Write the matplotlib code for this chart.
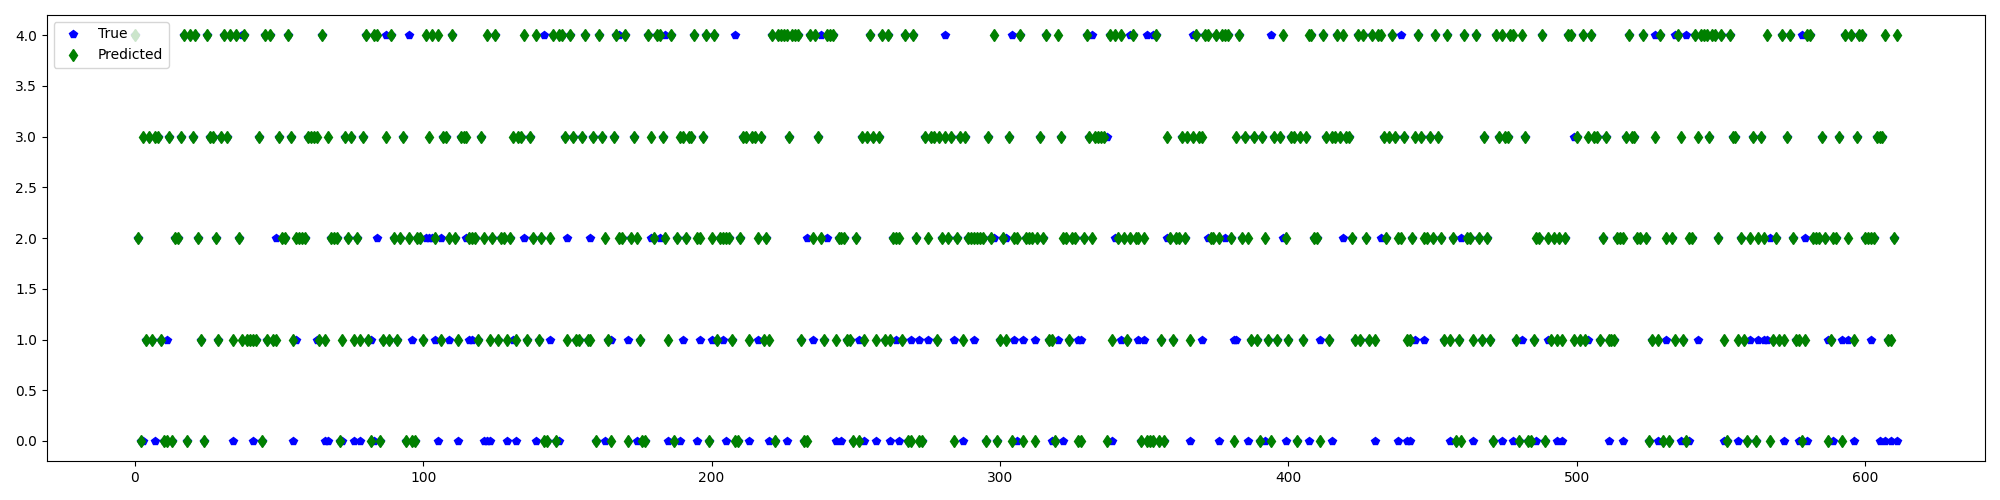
import matplotlib
matplotlib.use("Agg")
import matplotlib.pyplot as plt

# predicted class for every test sample (index 0..611)
y_pred = [
    4, 2, 0, 3, 1, 3, 1, 3, 3, 1, 0, 0, 3, 0, 2, 2, 3, 4, 0, 4,
    3, 4, 2, 1, 0, 4, 3, 3, 2, 1, 3, 4, 3, 4, 1, 4, 2, 1, 4, 1,
    1, 1, 1, 3, 0, 4, 1, 4, 1, 1, 3, 2, 2, 4, 3, 1, 2, 2, 2, 2,
    3, 3, 3, 3, 1, 4, 1, 3, 2, 2, 2, 0, 1, 3, 2, 3, 1, 2, 1, 3,
    4, 1, 0, 4, 4, 0, 1, 3, 1, 4, 2, 1, 2, 3, 0, 2, 0, 0, 2, 2,
    1, 4, 3, 4, 2, 4, 1, 3, 3, 2, 4, 2, 1, 3, 3, 3, 2, 2, 2, 1,
    3, 2, 4, 1, 2, 4, 1, 2, 2, 1, 2, 3, 1, 3, 3, 4, 1, 3, 2, 4,
    1, 2, 0, 0, 2, 4, 0, 4, 4, 3, 1, 4, 3, 1, 1, 3, 4, 1, 1, 3,
    0, 4, 3, 2, 1, 0, 3, 4, 2, 2, 4, 0, 2, 3, 2, 1, 0, 0, 4, 3,
    2, 4, 4, 3, 2, 1, 4, 0, 2, 3, 3, 2, 3, 3, 4, 2, 2, 3, 4, 0,
    2, 4, 1, 2, 2, 2, 2, 1, 0, 0, 2, 3, 3, 1, 3, 3, 2, 3, 1, 2,
    1, 4, 0, 4, 4, 4, 4, 3, 4, 4, 4, 1, 0, 0, 4, 2, 4, 3, 2, 1,
    4, 4, 4, 1, 2, 2, 2, 1, 1, 0, 2, 0, 3, 1, 3, 4, 3, 1, 3, 4,
    1, 4, 1, 2, 2, 2, 1, 4, 0, 0, 4, 2, 0, 0, 3, 2, 3, 3, 1, 3,
    2, 3, 2, 3, 0, 2, 3, 1, 3, 2, 2, 2, 2, 2, 2, 0, 3, 2, 4, 0,
    1, 2, 1, 3, 0, 2, 2, 4, 0, 2, 2, 2, 0, 2, 3, 2, 4, 1, 1, 0,
    4, 3, 2, 2, 1, 2, 2, 0, 0, 2, 4, 3, 2, 3, 3, 3, 3, 0, 4, 1,
    4, 2, 4, 2, 1, 2, 4, 2, 2, 0, 2, 0, 0, 0, 4, 0, 1, 0, 3, 2,
    1, 2, 2, 3, 2, 3, 1, 3, 4, 3, 3, 4, 4, 2, 2, 4, 2, 4, 4, 4,
    2, 0, 3, 4, 2, 3, 2, 1, 3, 1, 0, 3, 2, 1, 0, 3, 1, 3, 4, 2,
    1, 3, 3, 0, 3, 1, 3, 4, 4, 2, 2, 0, 4, 3, 1, 3, 3, 4, 3, 4,
    3, 3, 2, 1, 4, 1, 4, 2, 1, 4, 1, 4, 4, 3, 2, 3, 4, 3, 2, 2,
    3, 1, 1, 2, 3, 4, 3, 2, 2, 3, 2, 4, 3, 2, 1, 4, 1, 2, 0, 1,
    0, 4, 2, 2, 1, 4, 2, 1, 3, 2, 1, 0, 4, 3, 4, 3, 3, 4, 4, 1,
    0, 4, 3, 0, 0, 1, 2, 2, 4, 0, 2, 1, 2, 1, 2, 1, 2, 4, 4, 1,
    3, 1, 4, 1, 3, 4, 3, 3, 1, 2, 3, 1, 1, 1, 2, 2, 2, 3, 4, 3,
    3, 2, 2, 4, 2, 0, 1, 3, 1, 4, 0, 2, 0, 2, 1, 4, 3, 1, 0, 2,
    2, 4, 3, 4, 4, 4, 3, 4, 4, 2, 4, 1, 0, 4, 3, 3, 1, 2, 1, 0,
    2, 3, 0, 2, 3, 2, 4, 0, 1, 2, 1, 4, 1, 3, 4, 2, 1, 1, 0, 1,
    4, 4, 2, 2, 2, 3, 2, 0, 1, 2, 2, 3, 0, 4, 2, 4, 1, 3, 4, 4,
    2, 2, 2, 2, 3, 3, 3, 4, 1, 1, 2, 4,
]

# samples where the true class differs from the prediction (visible blue pentagons):
# (index, true class)
wrong = [
    (3, 0), (7, 0), (11, 1), (34, 0), (37, 4), (41, 0), (49, 2), (55, 0), (56, 1),
    (63, 1), (66, 0), (67, 0), (72, 0), (76, 0), (78, 0), (82, 1), (83, 0), (84, 2),
    (87, 4), (95, 4), (96, 1), (101, 2), (102, 2), (103, 2), (104, 1), (105, 0),
    (106, 2), (109, 1), (112, 0), (115, 2), (116, 1), (117, 1), (121, 0), (122, 0),
    (123, 0), (129, 0), (131, 1), (132, 0), (135, 2), (139, 0), (142, 4), (144, 1),
    (147, 0), (150, 2), (158, 2), (163, 0), (165, 1), (168, 4), (171, 1), (174, 0),
    (179, 2), (182, 2), (184, 4), (185, 0), (189, 0), (190, 1), (195, 0), (196, 1),
    (200, 1), (204, 1), (205, 0), (208, 4), (213, 0), (216, 1), (220, 0), (226, 0),
    (233, 2), (235, 1), (238, 4), (240, 2), (243, 0), (245, 0), (251, 1), (253, 0),
    (257, 0), (262, 0), (264, 1), (265, 0), (269, 1), (272, 1), (275, 1), (281, 4),
    (284, 1), (287, 0), (291, 1), (298, 2), (302, 2), (304, 4), (305, 1), (306, 0),
    (308, 1), (312, 1), (318, 0), (320, 1), (322, 0), (327, 1), (328, 1), (332, 4),
    (337, 3), (339, 0), (340, 2), (342, 1), (345, 4), (348, 1), (350, 1), (351, 4),
    (353, 4), (358, 2), (366, 0), (367, 4), (370, 1), (372, 2), (376, 0), (378, 2),
    (381, 1), (382, 1), (386, 0), (392, 0), (394, 4), (398, 2), (399, 0), (407, 0),
    (411, 1), (415, 0), (419, 2), (430, 0), (432, 2), (438, 0), (439, 4), (441, 0),
    (442, 0), (444, 1), (447, 1), (456, 0), (460, 2), (464, 0), (474, 0), (478, 0),
    (481, 1), (486, 0), (490, 1), (493, 0), (495, 0), (499, 3), (504, 1), (511, 0),
    (516, 0), (527, 4), (528, 0), (531, 1), (534, 4), (536, 0), (538, 4), (539, 0),
    (542, 1), (551, 0), (556, 0), (560, 1), (563, 1), (565, 1), (566, 1), (567, 2),
    (572, 0), (577, 0), (578, 4), (579, 2), (580, 0), (587, 1), (589, 0), (592, 1),
    (594, 1), (596, 0), (602, 1), (605, 0), (607, 0), (609, 0), (611, 0),
]

y_true = list(y_pred)
for i, t in wrong:
    y_true[i] = t

plt.figure(figsize=(20, 5))
plt.plot(y_true, 'bp', label='True')
plt.plot(y_pred, 'gd', label='Predicted')
plt.legend(loc='upper left')
plt.tight_layout()
plt.savefig('out.png', dpi=100)
